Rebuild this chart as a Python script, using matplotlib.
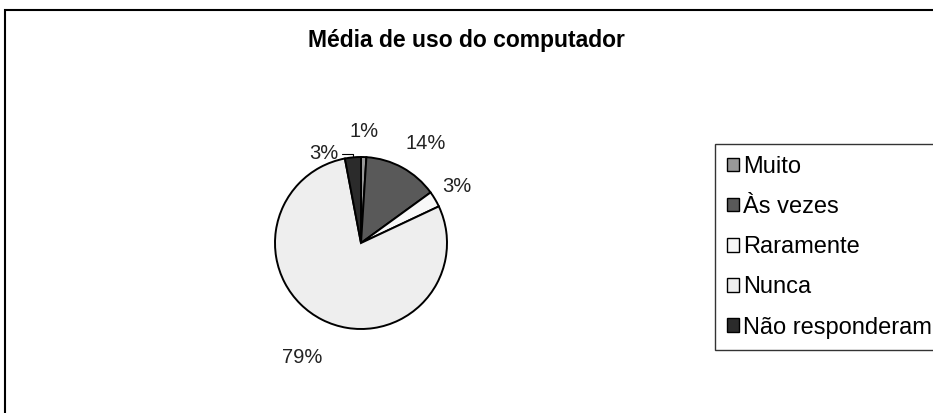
import numpy as np
import matplotlib.pyplot as plt
from matplotlib.patches import Rectangle

categorias = ["Muito", "Às vezes", "Raramente", "Nunca", "Não responderam"]
percentuais = [1, 14, 3, 79, 3]
cores = ["#999999", "#595959", "#f8f8f8", "#eeeeee", "#2b2b2b"]

plt.rcParams['font.family'] = ['Liberation Sans', 'DejaVu Sans']

fig = plt.figure(figsize=(9.33, 4.13), dpi=100)
fig.patch.set_facecolor('white')

# moldura do gráfico (cortada na direita e embaixo)
fig.patches.append(Rectangle((5 / 933, -0.05), 1.0, 1 - 10 / 413 + 0.05,
                             transform=fig.transFigure, fill=False,
                             edgecolor='black', linewidth=1.5))

fig.text(466 / 933, 1 - 41 / 413, "Média de uso do computador",
         ha='center', va='center', fontsize=16.5, fontweight='bold')

ax = fig.add_axes([189 / 933, -2 / 413, 344 / 933, 344 / 413])
wedges, _ = ax.pie(percentuais, colors=cores, startangle=90, counterclock=False,
                   wedgeprops=dict(edgecolor='black', linewidth=1.4))
ax.set_xlim(-2, 2)
ax.set_ylim(-2, 2)
ax.axis('off')

# rótulos de porcentagem fora das fatias (raio e giro por rótulo)
raios = [1.3, 1.38, 1.3, 1.5, 1.12]
giros = [0, -4, 0, 0, 17]
for w, p, r, g in zip(wedges, percentuais, raios, giros):
    ang = np.deg2rad((w.theta1 + w.theta2) / 2)
    ang2 = ang + np.deg2rad(g)
    if w is wedges[-1]:
        ax.annotate(f"{p}%", xy=(np.cos(ang) * 1.0, np.sin(ang) * 1.0 + 0.02),
                    xytext=(np.cos(ang2) * r, np.sin(ang2) * r),
                    ha='center', va='center', fontsize=14.5, color='#222222',
                    arrowprops=dict(arrowstyle='-', color='black', lw=0.8,
                                    shrinkA=12, shrinkB=0,
                                    connectionstyle='angle,angleA=0,angleB=90,rad=0'))
    else:
        ax.text(np.cos(ang2) * r, np.sin(ang2) * r, f"{p}%",
                ha='center', va='center', fontsize=14.5, color='#222222')

handles = [Rectangle((0, 0), 1, 1, facecolor=c, edgecolor='black', linewidth=1)
           for c in cores]
leg = fig.legend(handles, categorias, loc='upper left',
                 bbox_to_anchor=(715 / 933, 1 - 144 / 413), borderaxespad=0,
                 fontsize=17, frameon=True, fancybox=False, edgecolor='black',
                 handlelength=0.5, handleheight=0.5, handletextpad=0.2,
                 labelspacing=0.77, borderpad=0.5)
leg.get_frame().set_linewidth(1)

fig.savefig('out.png', dpi=100)
